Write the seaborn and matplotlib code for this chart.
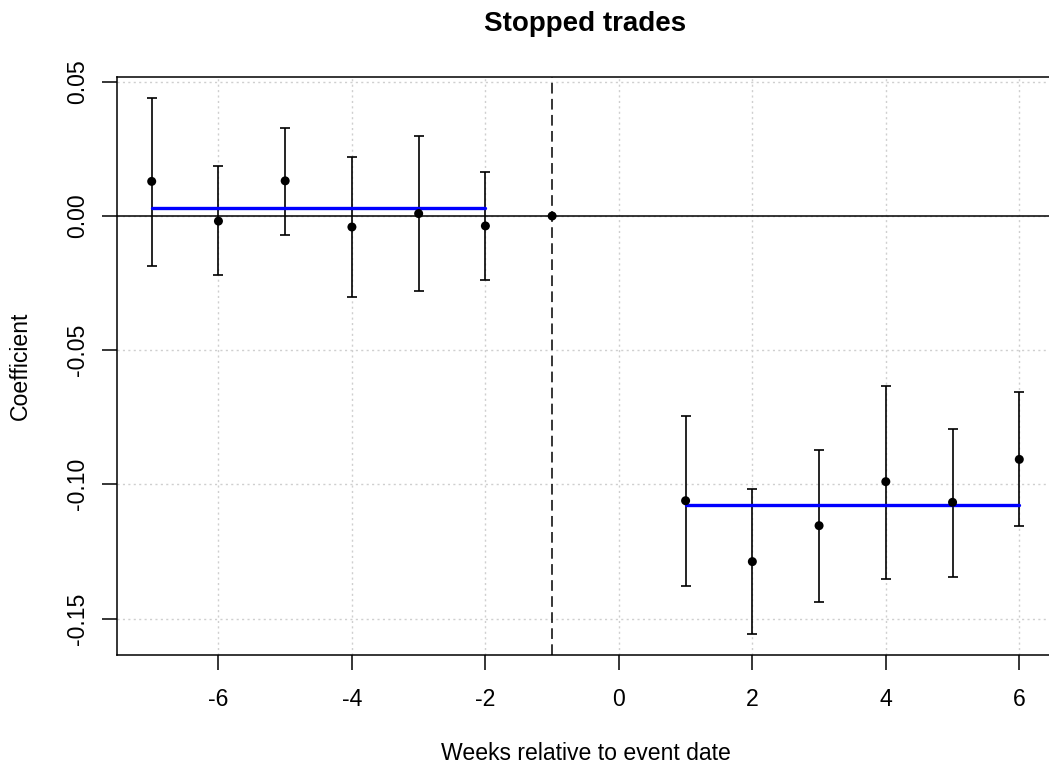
import numpy as np
import pandas as pd
import matplotlib
matplotlib.use("Agg")
import matplotlib.pyplot as plt
import seaborn as sns

# Event-study coefficients for stopped trades, by week relative to the event
weeks = [-7, -6, -5, -4, -3, -2, -1, 1, 2, 3, 4, 5, 6]
coef = [0.0129, -0.0019, 0.0131, -0.0041, 0.0009, -0.0037, 0.0,
        -0.1061, -0.1288, -0.1154, -0.0990, -0.1067, -0.0907]
ci_low = [-0.0186, -0.0220, -0.0069, -0.0303, -0.0280, -0.0239, np.nan,
          -0.1379, -0.1556, -0.1440, -0.1352, -0.1347, -0.1156]
ci_high = [0.0438, 0.0185, 0.0327, 0.0221, 0.0297, 0.0164, np.nan,
           -0.0746, -0.1019, -0.0872, -0.0633, -0.0792, -0.0655]

# Average effect before and after the event
pre_weeks = [-7, -2]
pre_mean = [0.0030, 0.0030]
post_weeks = [1, 6]
post_mean = [-0.1078, -0.1078]

x_ticks = [-6, -4, -2, 0, 2, 4, 6]
y_ticks = [0.05, 0.00, -0.05, -0.10, -0.15]
y_tick_labels = ["0.05", "0.00", "-0.05", "-0.10", "-0.15"]

sns.set_theme(style="white")
plt.rcParams["font.family"] = ["Liberation Sans", "DejaVu Sans"]

df = pd.DataFrame({"week": weeks, "coef": coef, "lo": ci_low, "hi": ci_high})

W, H = 1049, 766
fig = plt.figure(figsize=(W / 100, H / 100), dpi=100)
left, right, top, bottom = 117, 1054, 77, 655
ax = fig.add_axes([left / W, 1 - bottom / H, (right - left) / W, (bottom - top) / H])

ax.set_xlim(-7.52, 6.52)
ax.set_ylim(-0.1636, 0.0518)

# dotted reference grid
grid_style = dict(color="#CFCFCF", lw=1.0, ls=(0, (1.5, 2.4)), zorder=0)
for xv in x_ticks:
    ax.axvline(xv, **grid_style)
for yv in y_ticks:
    ax.axhline(yv, **grid_style)

ax.axhline(0, color="black", lw=1.1, zorder=1)
ax.axvline(-1, color="black", lw=1.1, ls=(0, (7, 3.5)), zorder=1)

# confidence intervals
ci = df.dropna()
ax.errorbar(ci["week"], ci["coef"],
            yerr=[ci["coef"] - ci["lo"], ci["hi"] - ci["coef"]],
            fmt="none", ecolor="black", elinewidth=1.2, capsize=3.9,
            capthick=1.2, zorder=2)

sns.scatterplot(data=df, x="week", y="coef", color="black", s=42,
                edgecolor="none", ax=ax, zorder=4, legend=False)

sns.lineplot(x=pre_weeks, y=pre_mean, color="#0000FF", lw=2.4, ax=ax, zorder=3)
sns.lineplot(x=post_weeks, y=post_mean, color="#0000FF", lw=2.4, ax=ax, zorder=3)

ax.set_xticks(x_ticks)
ax.set_xticklabels([str(t) for t in x_ticks])
ax.set_yticks(y_ticks)
ax.set_yticklabels(y_tick_labels, rotation=90, va="center")

fs = 16.6
ax.tick_params(axis="both", which="both", direction="out", length=10.5,
               width=1.1, color="black", labelsize=fs, labelcolor="black",
               bottom=True, left=True)
ax.tick_params(axis="x", pad=13)
ax.tick_params(axis="y", pad=9.5)
for side in ["left", "top", "bottom"]:
    ax.spines[side].set_visible(True)
    ax.spines[side].set_color("black")
    ax.spines[side].set_linewidth(1.1)
ax.spines["right"].set_visible(False)

ax.set_xlabel("Weeks relative to event date", fontsize=fs, color="black",
              va="baseline")
ax.xaxis.set_label_coords(0.5, (bottom - 760) / (bottom - top))
ax.set_ylabel("Coefficient", fontsize=fs, color="black", va="center")
ax.yaxis.set_label_coords((20 - left) / (right - left), 0.5)

fig.text((left + right) / 2 / W, 1 - 31 / H, "Stopped trades", fontsize=20,
         fontweight="bold", color="black", ha="center", va="baseline")

fig.savefig("out.png", dpi=100)
